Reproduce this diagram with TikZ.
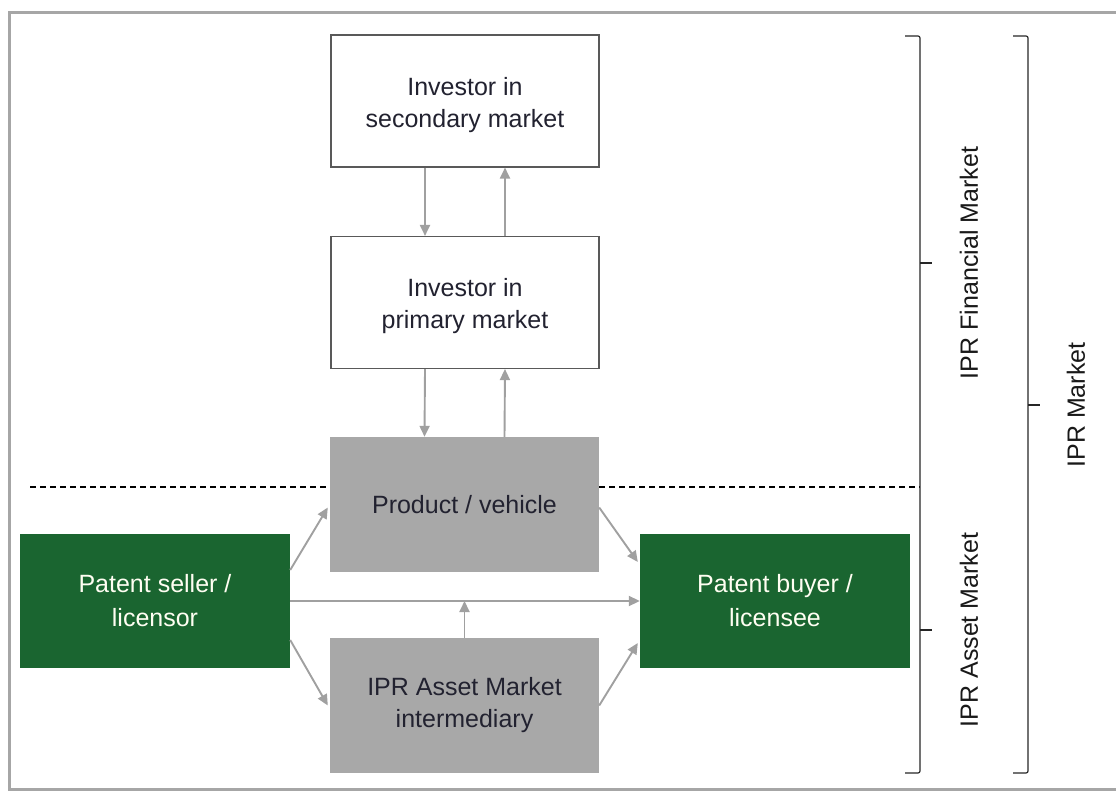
\documentclass[tikz,border=0pt]{standalone}
\usepackage{fontspec}
\setmainfont{Liberation Sans}
\usetikzlibrary{arrows.meta,calc}
\definecolor{dkgreen}{HTML}{1A6530}
\definecolor{boxgray}{HTML}{A8A8A8}
\definecolor{arrgray}{HTML}{A0A0A0}
\definecolor{framegray}{HTML}{A6A6A6}
\definecolor{txt}{HTML}{222230}
\tikzset{
  base/.style={inner sep=0pt, align=center, font=\fontsize{25}{32}\selectfont},
  whitebox/.style={base, draw=black!65, line width=1.1pt, fill=white, text=txt, minimum width=268pt, minimum height=132pt},
  wtext/.style={base, text=txt, yshift=-4pt},
  graybox/.style={base, fill=boxgray, text=txt, minimum width=269pt, minimum height=135pt},
  greenbox/.style={base, fill=dkgreen, text=white!95!yellow, minimum width=270pt, minimum height=134pt},
  arr/.style={draw=arrgray, line width=1.9pt, -{Triangle[length=11pt,width=10pt]}},
  bracket/.style={draw=black!85, line width=1.2pt, rounded corners=2pt},
  lbl/.style={base, rotate=90, text=black!90},
  dashline/.style={draw=black, line width=1.3pt, dash pattern=on 6pt off 4pt},
  frame/.style={draw=framegray, line width=3pt}
}
\begin{document}
\begin{tikzpicture}[x=1pt, y=-1pt]
\useasboundingbox (0,0) rectangle (1116,791);
\draw[frame] (1118,13) -- (9,13) -- (9,789) -- (1118,789);

% nodes
\node[whitebox, label={[wtext]center:{Investor in\\secondary market}}] (sec) at (465,101) {};
\node[whitebox, label={[wtext]center:{Investor in\\primary market}}] (prim) at (465,302.5) {};
\node[graybox] (prod) at (464.5,504.5) {Product / vehicle};
\node[graybox] (inter) at (464.5,705.5) {IPR Asset Market\\intermediary};
\node[greenbox] (seller) at (155,601) {Patent seller /\\[2pt]licensor};
\node[greenbox] (buyer) at (775,601) {Patent buyer /\\[2pt]licensee};

% dashed boundary
\coordinate (dl) at (30,487);
\coordinate (dr) at (920,487);
\draw[dashline] (dl) -- (dl -| prod.west);
\draw[dashline] (dr -| prod.east) -- (dr);

% vertical arrows
\draw[arr] ($(sec.south)+(-40,0)$) -- ($(prim.north)+(-40,0)$);
\draw[arr] ($(prim.north)+(40,0)$) -- ($(sec.south)+(40,0)$);
\draw[arr] ($(prim.south)+(-40,0)$) -- ($(prod.north)+(-40,0)$);
\draw[arr] ($(prod.north)+(40,0)$) -- ($(prim.south)+(40,0)$);

% asset market arrows
\draw[arr] ($(seller.east)+(0,-31)$) -- ($(prod.west)+(-2,3)$);
\draw[arr] ($(seller.east)+(0,39)$) -- ($(inter.west)+(-2,0)$);
\draw[arr] (seller.east) -- (buyer.west);
\draw[arr] (inter.north) -- (inter.north |- seller.east);
\draw[arr] ($(prod.east)+(0,3)$) -- ($(buyer.west)+(-2,-39)$);
\draw[arr] (inter.east) -- ($(buyer.west)+(-2,42)$);

% brackets
\draw[bracket] (905,36) -- (920,36) -- (920,773) -- (905,773);
\draw[bracket] (920,263) -- (932,263);
\draw[bracket] (920,630) -- (932,630);
\draw[bracket] (1013,36) -- (1028,36) -- (1028,773) -- (1013,773);
\draw[bracket] (1028,405) -- (1040,405);

\node[lbl] (fin) at (969,263) {IPR Financial Market};
\node[lbl] (asset) at (969,630) {IPR Asset Market};
\node[lbl] (mkt) at (1076,405) {IPR Market};
\end{tikzpicture}
\end{document}
